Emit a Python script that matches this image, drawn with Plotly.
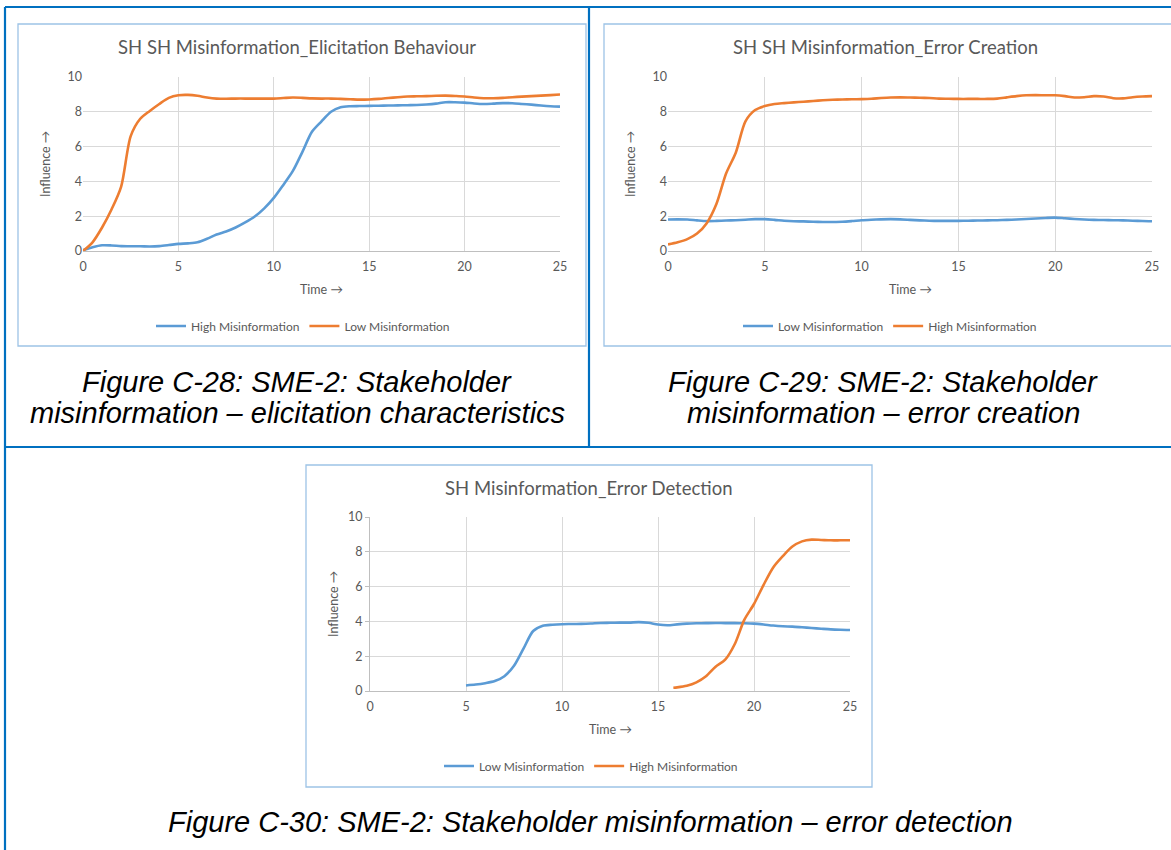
import plotly.graph_objects as go

# the page body margin is reset to 0 by a post script, so the 1171x850 figure fills the page
PAGE_OFF = 0
FW, FH = 1171, 850

# ---------------- data ----------------
t_full = [0, 0.5, 1, 1.5, 2, 2.5, 3, 3.5, 4, 4.5, 5, 5.5, 6, 6.5, 7, 7.5, 8, 8.5, 9, 9.5,
          10, 10.5, 11, 11.5, 12, 12.5, 13, 13.5, 14, 14.5, 15, 15.5, 16, 16.5, 17, 17.5,
          18, 18.5, 19, 19.5, 20, 20.5, 21, 21.5, 22, 22.5, 23, 23.5, 24, 24.5, 25]

# Chart C-28 : Elicitation Behaviour
c28_high = [0.05, 0.22, 0.33, 0.32, 0.28, 0.27, 0.27, 0.26, 0.28, 0.34, 0.41, 0.44, 0.5, 0.7,
            0.95, 1.12, 1.35, 1.64, 1.98, 2.45, 3.05, 3.8, 4.6, 5.7, 6.85, 7.45, 8.0, 8.26,
            8.32, 8.33, 8.34, 8.35, 8.36, 8.37, 8.38, 8.39, 8.42, 8.47, 8.55, 8.55, 8.53,
            8.48, 8.45, 8.47, 8.5, 8.49, 8.45, 8.41, 8.36, 8.32, 8.3]
c28_low = [0.0, 0.5, 1.35, 2.4, 3.7, 6.6, 7.6, 8.05, 8.45, 8.8, 8.95, 8.97, 8.92, 8.82, 8.76,
           8.75, 8.76, 8.76, 8.76, 8.76, 8.76, 8.79, 8.82, 8.8, 8.77, 8.76, 8.76, 8.74, 8.72,
           8.7, 8.71, 8.74, 8.79, 8.84, 8.88, 8.89, 8.9, 8.92, 8.93, 8.91, 8.88, 8.82, 8.78,
           8.78, 8.8, 8.84, 8.87, 8.9, 8.93, 8.96, 8.99]

# Chart C-29 : Error Creation
c29_low = [1.81, 1.82, 1.81, 1.76, 1.72, 1.73, 1.75, 1.77, 1.8, 1.83, 1.83, 1.79, 1.74, 1.71,
           1.7, 1.68, 1.67, 1.67, 1.68, 1.72, 1.77, 1.8, 1.82, 1.83, 1.82, 1.79, 1.76, 1.74,
           1.73, 1.73, 1.73, 1.74, 1.75, 1.76, 1.77, 1.79, 1.81, 1.84, 1.87, 1.9, 1.92, 1.88,
           1.84, 1.81, 1.79, 1.78, 1.77, 1.76, 1.74, 1.72, 1.71]
c29_high = [0.38, 0.5, 0.68, 1.0, 1.6, 2.7, 4.45, 5.65, 7.45, 8.1, 8.33, 8.45, 8.5, 8.54, 8.58,
            8.62, 8.66, 8.69, 8.71, 8.72, 8.73, 8.75, 8.79, 8.82, 8.83, 8.82, 8.81, 8.79, 8.76,
            8.75, 8.74, 8.74, 8.74, 8.74, 8.76, 8.83, 8.9, 8.95, 8.96, 8.95, 8.95, 8.9, 8.82,
            8.84, 8.9, 8.88, 8.78, 8.77, 8.84, 8.88, 8.9]

# Chart C-30 : Error Detection
t30_low = [5, 5.5, 6, 6.5, 7, 7.5, 8, 8.5, 9, 9.5, 10, 10.5, 11, 11.5, 12, 12.5, 13, 13.5, 14,
           14.5, 15, 15.5, 16, 16.5, 17, 17.5, 18, 18.5, 19, 19.5, 20, 20.5, 21, 21.5, 22,
           22.5, 23, 23.5, 24, 24.5, 25]
c30_low = [0.32, 0.37, 0.45, 0.57, 0.85, 1.45, 2.45, 3.45, 3.75, 3.81, 3.84, 3.85, 3.86, 3.88,
           3.91, 3.92, 3.93, 3.93, 3.96, 3.92, 3.82, 3.78, 3.83, 3.87, 3.89, 3.9, 3.91, 3.9,
           3.9, 3.89, 3.87, 3.82, 3.76, 3.72, 3.7, 3.66, 3.62, 3.58, 3.54, 3.52, 3.51]
t30_high = [15.8, 16, 16.5, 17, 17.5, 18, 18.5, 19, 19.5, 20, 20.5, 21, 21.5, 22, 22.5, 23,
            23.5, 24, 24.5, 25]
c30_high = [0.19, 0.21, 0.3, 0.5, 0.85, 1.4, 1.8, 2.7, 4.1, 5.0, 6.1, 7.1, 7.75, 8.3, 8.6, 8.7,
            8.68, 8.66, 8.66, 8.66]

x_ticks = [0, 5, 10, 15, 20, 25]
y_ticks = [0, 2, 4, 6, 8, 10]

titles = ["SH SH Misinformation_Elicitation Behaviour",
          "SH SH Misinformation_Error Creation",
          "SH Misinformation_Error Detection"]
captions = [["Figure C-28: SME-2: Stakeholder", "misinformation – elicitation characteristics"],
            ["Figure C-29: SME-2: Stakeholder", "misinformation – error creation"],
            ["Figure C-30: SME-2: Stakeholder misinformation – error detection"]]

BLUE = "#5B9BD5"
ORANGE = "#ED7D31"
GRID = "#D9D9D9"
TXT = "#595959"
FONT = "Lato, 'Open Sans', sans-serif"
CAPFONT = "'Liberation Sans', Arial, sans-serif"
TABLE = "#0070C0"
BOX = "#9DC3E6"


def px(x):
    """page pixel x -> paper fraction"""
    return (x - PAGE_OFF) / FW


def py(y):
    """page pixel y -> paper fraction"""
    return 1 - (y - PAGE_OFF) / FH


# plot-area page-pixel boxes: (left, right, top, bottom)
plots = [(83, 560, 77, 251), (668, 1152, 77, 251), (370, 850, 517, 691)]
boxes = [(18, 586, 24, 346), (604, 1180, 24, 346), (306, 872, 465, 787)]
legend_cx = [303, 890, 591]
title_cx = [297, 885, 589]

fig = go.Figure()

series = [
    [("High Misinformation", t_full, c28_high, BLUE), ("Low Misinformation", t_full, c28_low, ORANGE)],
    [("Low Misinformation", t_full, c29_low, BLUE), ("High Misinformation", t_full, c29_high, ORANGE)],
    [("Low Misinformation", t30_low, c30_low, BLUE), ("High Misinformation", t30_high, c30_high, ORANGE)],
]

legend_names = ["legend", "legend2", "legend3"]
for i, group in enumerate(series):
    xa = "x" if i == 0 else f"x{i+1}"
    ya = "y" if i == 0 else f"y{i+1}"
    for name, xs, ys, col in group:
        fig.add_trace(go.Scatter(x=xs, y=ys, name=name, mode="lines", xaxis=xa, yaxis=ya,
                                 line=dict(color=col, width=2.6, shape="spline", smoothing=0.8),
                                 legend=legend_names[i], hoverinfo="skip"))

layout = dict(width=FW, height=FH, autosize=False,
              margin=dict(l=0, r=0, t=0, b=0, pad=0, autoexpand=False),
              paper_bgcolor="white", plot_bgcolor="white", showlegend=True)

for i, (l, r, t, b) in enumerate(plots):
    suf = "" if i == 0 else str(i + 1)
    xa = dict(domain=[px(l), min(px(r), 1.0)], range=[0, 25], tickvals=x_ticks, showgrid=True,
              gridcolor=GRID, gridwidth=1, zeroline=False, showline=True, linecolor="#BFBFBF",
              linewidth=1, ticks="", ticklabelstandoff=4, automargin=False,
              tickfont=dict(family=FONT, size=12.5, color=TXT),
              anchor="y" + suf, fixedrange=True)
    ya = dict(domain=[py(b), py(t)], range=[0, 10], tickvals=y_ticks, showgrid=True,
              gridcolor=GRID, gridwidth=1, zeroline=False, showline=(i == 2),
              linecolor="#BFBFBF", linewidth=1, automargin=False,
              ticks="outside" if i == 2 else "", ticklen=4, tickcolor="#BFBFBF",
              tickfont=dict(family=FONT, size=12.5, color=TXT), anchor="x" + suf, fixedrange=True)
    layout["xaxis" + suf] = xa
    layout["yaxis" + suf] = ya
    layout[legend_names[i]] = dict(orientation="h", x=px(legend_cx[i]), xanchor="center",
                                   y=py(b + 75), yanchor="middle",
                                   font=dict(family=FONT, size=12, color=TXT),
                                   bgcolor="rgba(0,0,0,0)", itemwidth=30, tracegroupgap=0)

fig.update_layout(**layout)

shapes = []
# table borders
for (x0, y0, x1, y1) in [(5, 7, 1190, 7), (5, 7, 5, 870), (589, 7, 589, 447), (5, 447, 1190, 447)]:
    shapes.append(dict(type="line", xref="paper", yref="paper", x0=px(x0), y0=py(y0),
                       x1=px(x1), y1=py(y1), line=dict(color=TABLE, width=2.2)))
for (l, r, t, b) in boxes:
    shapes.append(dict(type="rect", xref="paper", yref="paper", x0=px(l), y0=py(b),
                       x1=px(r), y1=py(t), line=dict(color=BOX, width=1.3)))
fig.update_layout(shapes=shapes)

ann = []
for i, ((l, r, t, b), (bl, br, bt, bb)) in enumerate(zip(plots, boxes)):
    ann.append(dict(text=titles[i], x=px(title_cx[i]),
                    y=py(bt + 23), xref="paper", yref="paper", showarrow=False,
                    xanchor="center", yanchor="middle",
                    font=dict(family=FONT, size=18.5, color=TXT)))
    ann.append(dict(text="Time →", x=px((l + r) / 2), y=py(b + 38), xref="paper", yref="paper",
                    showarrow=False, xanchor="center", yanchor="middle",
                    font=dict(family=FONT, size=12.5, color=TXT)))
    ann.append(dict(text="Influence →", x=px(l - 37), y=py((t + b) / 2), xref="paper",
                    yref="paper", showarrow=False, textangle=-90, xanchor="center",
                    yanchor="middle", font=dict(family=FONT, size=12.5, color=TXT)))

cap_pos = [(297, [382, 413]), (883, [382, 413]), (590, [822])]
for (cx, ys), lines in zip(cap_pos, captions):
    for yy, line in zip(ys, lines):
        ann.append(dict(text="<i>" + line + "</i>", x=px(cx), y=py(yy), xref="paper",
                        yref="paper", showarrow=False, xanchor="center", yanchor="middle",
                        font=dict(family=CAPFONT, size=29, color="#000000")))
fig.update_layout(annotations=ann)

fig.write_html(
    "out.html",
    config={"displayModeBar": False, "responsive": False},
    post_script=("document.documentElement.style.margin='0';"
                 "document.documentElement.style.overflow='hidden';"
                 "document.body.style.margin='0';document.body.style.padding='0';"
                 "document.body.style.overflow='hidden';"),
)
